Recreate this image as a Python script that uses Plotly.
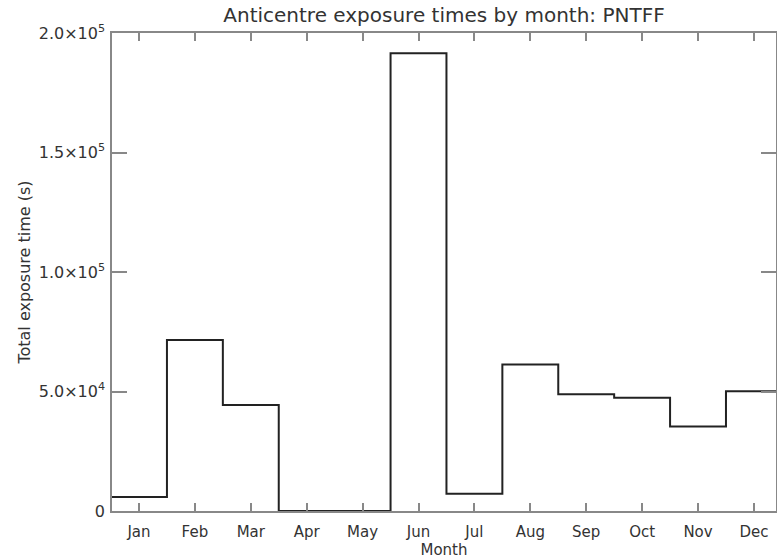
import plotly.graph_objects as go

months = ["Jan", "Feb", "Mar", "Apr", "May", "Jun", "Jul", "Aug", "Sep", "Oct", "Nov", "Dec"]
exposure = [5850, 71500, 44300, 0, 0, 191500, 7200, 61300, 48800, 47400, 35400, 50100]
ytick_vals = [0, 50000, 100000, 150000, 200000]
ytick_text = ["0", "5.0×10<sup>4</sup>", "1.0×10<sup>5</sup>", "1.5×10<sup>5</sup>", "2.0×10<sup>5</sup>"]

# step outline: bin edges at month index +/- 0.5
n = len(months)
x_edges = [i + 0.5 for i in range(n + 1)]
y_steps = exposure + [exposure[-1]]

FONT = "DejaVu Sans"
TXT = "#333333"
AX = "#888888"

fig = go.Figure()
fig.add_trace(go.Scatter(
    x=x_edges, y=y_steps, mode="lines", line=dict(shape="hv", color="#222222", width=2),
    showlegend=False, hoverinfo="skip"))

fig.update_layout(
    width=777, height=559,
    margin=dict(l=112, r=1, t=33, b=48, autoexpand=False),
    paper_bgcolor="white", plot_bgcolor="white",
    font=dict(family=FONT, size=15, color=TXT),
    title=dict(text="Anticentre exposure times by month: PNTFF", x=0.5714, xanchor="center",
               y=0.974, yanchor="middle", font=dict(family=FONT, size=20, color=TXT)),
)
fig.update_xaxes(
    range=[0.517, 12.395], tickmode="array", tickvals=list(range(1, n + 1)), ticktext=months,
    ticks="inside", ticklen=8, tickwidth=1.5, tickcolor=AX, ticklabelstandoff=6,
    showline=True, linecolor=AX, linewidth=1.5, mirror="ticks",
    showgrid=False, zeroline=False, automargin=False,
    title=dict(text="Month", standoff=0, font=dict(family=FONT, size=15, color=TXT)),
    tickfont=dict(family=FONT, size=15, color=TXT),
)
fig.update_yaxes(
    range=[0, 200000], tickmode="array", tickvals=ytick_vals, ticktext=ytick_text,
    ticks="inside", ticklen=15, tickwidth=1.5, tickcolor=AX, ticklabelstandoff=2,
    showline=True, linecolor=AX, linewidth=1.5, mirror="ticks",
    showgrid=False, zeroline=False, automargin=False,
    title=dict(text="Total exposure time (s)", standoff=4, font=dict(family=FONT, size=16, color=TXT)),
    tickfont=dict(family=FONT, size=16, color=TXT),
)

fig.write_html(
    "out.html",
    config={"displayModeBar": False},
    post_script="document.body.style.margin='0';document.body.style.overflow='hidden';",
)
